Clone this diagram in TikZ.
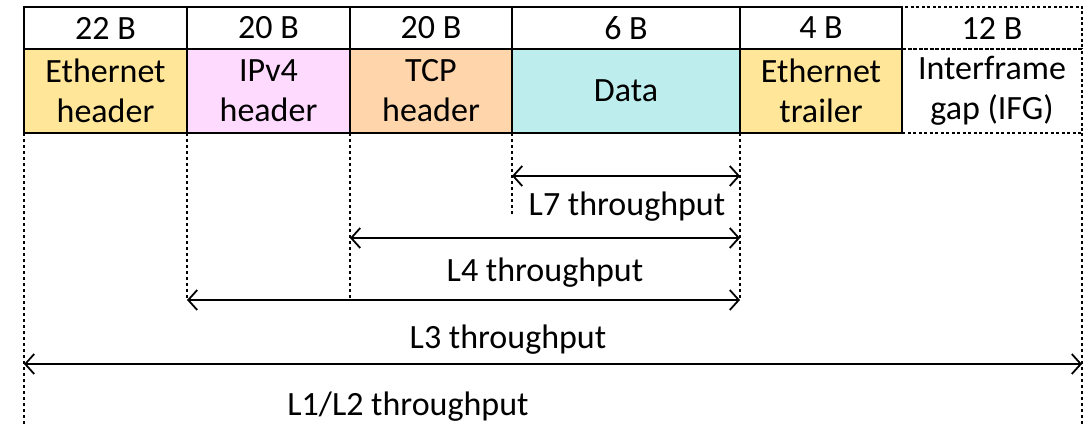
\documentclass[tikz,border=0pt]{standalone}
\usepackage{fontspec}
\setmainfont{Carlito}
\usetikzlibrary{arrows.meta}
\definecolor{ethfill}{HTML}{FFE699}
\definecolor{ipfill}{HTML}{FFDAFF}
\definecolor{tcpfill}{HTML}{FFD5AB}
\definecolor{datafill}{HTML}{BDEDED}
\begin{document}
\begin{tikzpicture}[x=1pt,y=-1pt,
  txt/.style={font=\fontsize{34}{40}\selectfont},
  cell/.style={txt, draw, line width=1.8pt, inner sep=0pt, outer sep=0pt, align=center},
  sizecell/.style={cell, fill=white, minimum height=42pt},
  fieldcell/.style={cell, minimum height=84pt},
  gapcell/.style={cell, line width=1.4pt, dash pattern=on 3pt off 2.5pt},
  guide/.style={line width=1.3pt, dash pattern=on 3pt off 3pt},
  span/.style={line width=1.8pt, {Straight Barb[length=9pt,width=20pt,line width=1.8pt]}-{Straight Barb[length=9pt,width=20pt,line width=1.8pt]}},
  lbl/.style={txt, inner sep=0pt}]
\useasboundingbox (0,0) rectangle (1084,425);

% interframe gap cells (dashed outline, drawn first so solid borders sit on top)
\node[gapcell, sizecell, minimum width=180pt] (s6) at (992,28) {12 B};
\node[gapcell, fieldcell, minimum width=180pt] (f6) at (992,91) {Interframe\\gap (IFG)};

% byte counts
\node[sizecell, minimum width=163pt] (s1) at (105.5,28) {22 B};
\node[sizecell, minimum width=163pt] (s2) at (268.5,28) {20 B};
\node[sizecell, minimum width=162pt] (s3) at (431,28) {20 B};
\node[sizecell, minimum width=228pt] (s4) at (626,28) {6 B};
\node[sizecell, minimum width=162pt] (s5) at (821,28) {4 B};

% frame fields
\node[fieldcell, fill=ethfill, minimum width=163pt] (f1) at (105.5,91) {Ethernet\\header};
\node[fieldcell, fill=ipfill, minimum width=163pt] (f2) at (268.5,91) {IPv4\\header};
\node[fieldcell, fill=tcpfill, minimum width=162pt] (f3) at (431,91) {TCP\\header};
\node[fieldcell, fill=datafill, minimum width=228pt] (f4) at (626,91) {Data};
\node[fieldcell, fill=ethfill, minimum width=162pt] (f5) at (821,91) {Ethernet\\trailer};

% span end points
\coordinate (l7a) at (f4.south west |- 0,176);
\coordinate (l7b) at (f4.south east |- 0,176);
\coordinate (l4a) at (f3.south west |- 0,238);
\coordinate (l4b) at (f4.south east |- 0,238);
\coordinate (l3a) at (f2.south west |- 0,300);
\coordinate (l3b) at (f4.south east |- 0,300);
\coordinate (l1a) at (f1.south west |- 0,364);
\coordinate (l1b) at (f6.south east |- 0,364);

% guide lines
\draw[guide] (f1.south west) -- (f1.south west |- 0,425);
\draw[guide] (f2.south west) -- (l3a);
\draw[guide] (f3.south west) -- (f3.south west |- l3a);
\draw[guide] (f4.south west) -- (f4.south west |- 0,216);
\draw[guide] (f4.south east) -- (l3b);
\draw[guide] (f6.south east) -- (f6.south east |- 0,425);

% throughput spans
\draw[span] (l7a) -- (l7b);
\draw[span] (l4a) -- (l4b);
\draw[span] (l3a) -- (l3b);
\draw[span] (l1a) -- (l1b);

% span labels
\node[lbl] (t7) at (627,207) {L7 throughput};
\node[lbl] (t4) at (545,273) {L4 throughput};
\node[lbl] (t3) at (508,340) {L3 throughput};
\node[lbl] (t1) at (408,407) {L1/L2 throughput};
\end{tikzpicture}
\end{document}
